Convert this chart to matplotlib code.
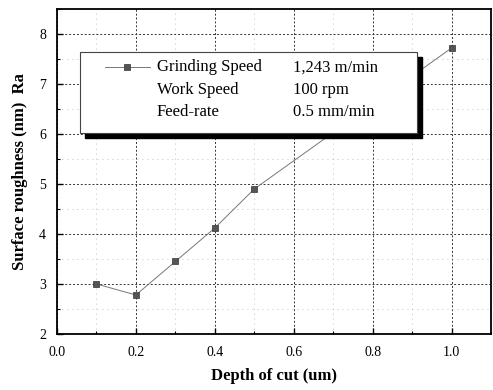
import matplotlib.pyplot as plt
from matplotlib.patches import Rectangle
from matplotlib.lines import Line2D
from matplotlib.ticker import MultipleLocator

depth = [0.1, 0.2, 0.3, 0.4, 0.5, 1.0]
ra = [3.0, 2.78, 3.45, 4.12, 4.9, 7.72]
legend_names = ["Grinding Speed", "Work Speed", "Feed-rate"]
legend_values = ["1,243 m/min", "100 rpm", "0.5 mm/min"]

plt.rcParams['font.family'] = ['Liberation Serif', 'DejaVu Serif']

fig = plt.figure(figsize=(4.93, 3.9), dpi=100, facecolor='white')
ax = fig.add_axes([0.1156, 0.1436, 0.8804, 0.8334])

ax.plot(depth, ra, color='#777777', lw=0.7, marker='s', ms=5,
        mfc='#555555', mec='#333333', mew=0.5, zorder=3)

ax.set_xlim(0.0, 1.1)
ax.set_ylim(2, 8.5)
ax.xaxis.set_major_locator(MultipleLocator(0.2))
ax.xaxis.set_minor_locator(MultipleLocator(0.1))
ax.yaxis.set_major_locator(MultipleLocator(1))
ax.yaxis.set_minor_locator(MultipleLocator(0.5))
ax.grid(which='major', ls=(0, (2, 2)), color='#333333', lw=0.7)
ax.grid(which='minor', ls=(0, (1, 5)), color='#aaaaaa', lw=0.6)
ax.set_axisbelow(True)
ax.tick_params(which='both', direction='in', labelsize=10)
ax.tick_params(which='major', length=4, width=1)
ax.tick_params(which='minor', length=2, width=0.8)
ax.tick_params(axis='x', pad=9)
ax.tick_params(axis='y', pad=8)
ax.xaxis.set_major_formatter(plt.FuncFormatter(lambda v, p: f"{v:.1f}"))
for s in ax.spines.values():
    s.set_linewidth(1.3)

ax.set_xlabel("Depth of cut (um)", fontsize=12, fontweight='bold', labelpad=6)
ax.set_ylabel("Surface roughness (nm)  Ra", fontsize=12, fontweight='bold', labelpad=8)

# legend box with shadow
x0, x1 = 0.053, 0.829
y0, y1 = 0.618, 0.868
ax.add_patch(Rectangle((x0 + 0.012, y0 - 0.016), x1 - x0, y1 - y0,
                       transform=ax.transAxes, fc='black', ec='black', zorder=4))
ax.add_patch(Rectangle((x0, y0), x1 - x0, y1 - y0, transform=ax.transAxes,
                       fc='white', ec='#444444', lw=0.8, zorder=5))
rows = [0.82, 0.75, 0.682]
ax.add_line(Line2D([0.11, 0.215], [rows[0], rows[0]], transform=ax.transAxes,
                   color='#777777', lw=0.7, zorder=6))
ax.add_line(Line2D([0.162], [rows[0]], transform=ax.transAxes, marker='s', ms=5,
                   mfc='#555555', mec='#333333', mew=0.5, zorder=6))
for yy, name, val in zip(rows, legend_names, legend_values):
    ax.text(0.23, yy, name, transform=ax.transAxes, fontsize=12, va='center', zorder=6)
    ax.text(0.543, yy, val, transform=ax.transAxes, fontsize=12, va='center', zorder=6)

fig.savefig("out.png", dpi=100)
